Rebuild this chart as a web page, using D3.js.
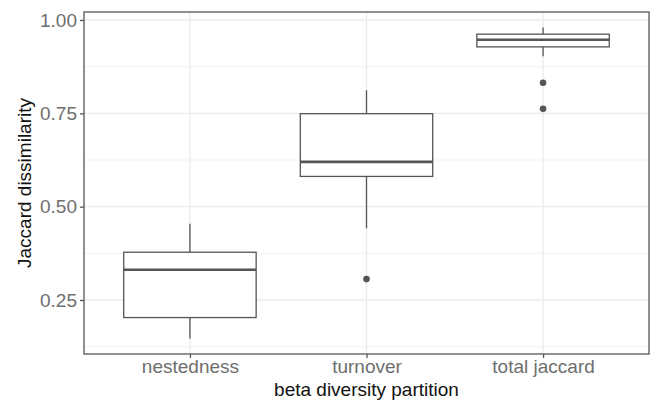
<!DOCTYPE html>
<html>
<head>
<meta charset="utf-8">
<script src="https://cdn.jsdelivr.net/npm/d3@7"></script>
<style>
  html, body { margin: 0; padding: 0; background: #fff; }
  svg { display: block; font-family: "Liberation Sans", Arial, sans-serif; }
</style>
</head>
<body>
<div id="chart"></div>
<script>
// Data
const categories = ['nestedness', 'turnover', 'total jaccard']
const whiskerLow = [0.147, 0.442, 0.903]
const q1 = [0.203, 0.581, 0.928]
const median = [0.331, 0.620, 0.947]
const q3 = [0.378, 0.749, 0.962]
const whiskerHigh = [0.454, 0.812, 0.980]
const outliers = [[], [0.306], [0.832, 0.762]]
const yTicks = [0.25, 0.50, 0.75, 1.00]
const yMinor = [0.125, 0.375, 0.625, 0.875]

const width = 651
const height = 401
const margin = { top: 12, right: 2, bottom: 47, left: 84 }
const lineCol = '#555'

const boxes = categories.map((c, i) => ({
  cat: c,
  lo: whiskerLow[i],
  q1: q1[i],
  med: median[i],
  q3: q3[i],
  hi: whiskerHigh[i],
  out: outliers[i],
}))

const svg = d3.select('#chart')
  .append('svg')
  .attr('width', width)
  .attr('height', height)

const x0 = margin.left
const x1 = width - margin.right
const y0 = height - margin.bottom
const y1 = margin.top

// ggplot discrete scale: 0.6 units of padding each side
const x = d3.scaleLinear().domain([0.4, categories.length + 0.6]).range([x0, x1])
const y = d3.scaleLinear().domain([0.1054, 1.0214]).range([y0, y1])
const boxW = (x(1) - x(0)) * 0.75

// Grid
const grid = svg.append('g')
grid.selectAll('line.minor')
  .data(yMinor)
  .join('line')
  .attr('x1', x0).attr('x2', x1)
  .attr('y1', d => y(d)).attr('y2', d => y(d))
  .attr('stroke', '#ebebeb')
  .attr('stroke-width', 0.7)
grid.selectAll('line.major')
  .data(yTicks)
  .join('line')
  .attr('x1', x0).attr('x2', x1)
  .attr('y1', d => y(d)).attr('y2', d => y(d))
  .attr('stroke', '#ebebeb')
  .attr('stroke-width', 1.3)
grid.selectAll('line.vmajor')
  .data(categories)
  .join('line')
  .attr('x1', (d, i) => x(i + 1)).attr('x2', (d, i) => x(i + 1))
  .attr('y1', y0).attr('y2', y1)
  .attr('stroke', '#ebebeb')
  .attr('stroke-width', 1.3)

// Boxplots
const g = svg.append('g')
  .selectAll('g')
  .data(boxes)
  .join('g')
  .attr('transform', (d, i) => `translate(${x(i + 1)},0)`)

g.append('line')
  .attr('y1', d => y(d.hi)).attr('y2', d => y(d.q3))
  .attr('stroke', lineCol).attr('stroke-width', 1.3)
g.append('line')
  .attr('y1', d => y(d.q1)).attr('y2', d => y(d.lo))
  .attr('stroke', lineCol).attr('stroke-width', 1.3)
g.append('rect')
  .attr('x', -boxW / 2)
  .attr('width', boxW)
  .attr('y', d => y(d.q3))
  .attr('height', d => y(d.q1) - y(d.q3))
  .attr('fill', '#fff')
  .attr('stroke', lineCol)
  .attr('stroke-width', 1.3)
g.append('line')
  .attr('x1', -boxW / 2).attr('x2', boxW / 2)
  .attr('y1', d => y(d.med)).attr('y2', d => y(d.med))
  .attr('stroke', lineCol).attr('stroke-width', 2.6)
g.selectAll('circle')
  .data(d => d.out)
  .join('circle')
  .attr('r', 3.3)
  .attr('cy', d => y(d))
  .attr('fill', lineCol)

// Panel border
svg.append('rect')
  .attr('x', x0).attr('y', y1)
  .attr('width', x1 - x0).attr('height', y0 - y1)
  .attr('fill', 'none')
  .attr('stroke', lineCol)
  .attr('stroke-width', 1.3)

// Axes
const yAxis = svg.append('g')
  .attr('transform', `translate(${x0},0)`)
  .call(d3.axisLeft(y).tickValues(yTicks).tickFormat(d3.format('.2f')).tickSize(4).tickPadding(3))
const xAxis = svg.append('g')
  .attr('transform', `translate(0,${y0})`)
  .call(d3.axisBottom(x).tickValues([1, 2, 3]).tickFormat(d => categories[d - 1]).tickSize(4).tickPadding(2))

for (const ax of [yAxis, xAxis]) {
  ax.select('.domain').remove()
  ax.selectAll('.tick line').attr('stroke', lineCol).attr('stroke-width', 1.3)
  ax.selectAll('.tick text')
    .attr('fill', '#6e6e6e')
    .attr('font-size', '19px')
    .attr('font-family', '"Liberation Sans", Arial, sans-serif')
}

// Titles
svg.append('text')
  .attr('x', (x0 + x1) / 2)
  .attr('y', 396)
  .attr('text-anchor', 'middle')
  .attr('font-size', '19px')
  .attr('fill', '#111')
  .text('beta diversity partition')

svg.append('text')
  .attr('transform', `translate(31,${(y0 + y1) / 2}) rotate(-90)`)
  .attr('text-anchor', 'middle')
  .attr('font-size', '19px')
  .attr('fill', '#111')
  .text('Jaccard dissimilarity')
</script>
</body>
</html>
